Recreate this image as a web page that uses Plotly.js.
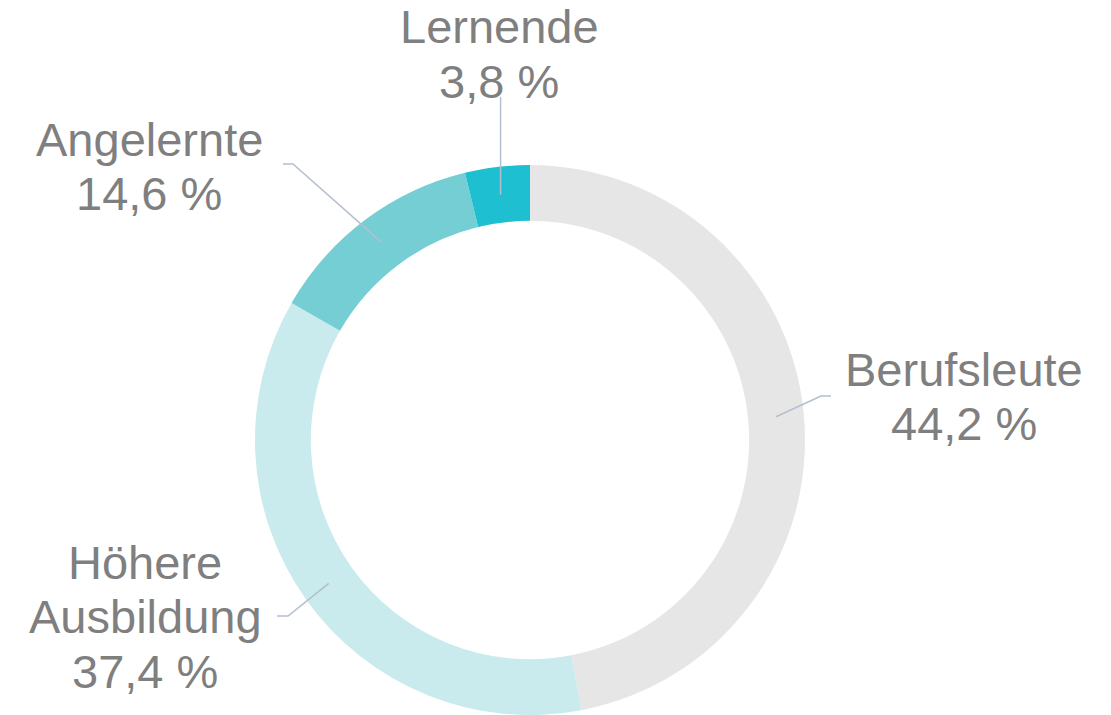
<!DOCTYPE html>
<html>
<head>
<meta charset="utf-8">
<script src="https://cdn.plot.ly/plotly-3.0.1.min.js"></script>
<style>html,body{margin:0;padding:0;background:#fff;}#chart{width:1111px;height:715px;}</style>
</head>
<body>
<div id="chart"></div>
<script>
// Data
const categories = ["Berufsleute", "Höhere Ausbildung", "Angelernte", "Lernende"];
const labelLines = [["Berufsleute"], ["Höhere", "Ausbildung"], ["Angelernte"], ["Lernende"]];
const shareText = ["44,2 %", "37,4 %", "14,6 %", "3,8 %"];
// slice sizes as drawn in the picture (%)
const values = [47.0, 36.3, 12.9, 3.8];
const colors = ["#e6e6e6", "#c9ebee", "#74ced4", "#1dbfd0"];

// Layout config (pixels)
const W = 1111, H = 715;
const cx = 530, cy = 440, R = 275, holeFrac = 0.797;
const labelCfg = [
  {x: 964, y0: 369, elbow: [821, 396], end: [831, 396]},
  {x: 145, y0: 562, elbow: [288, 616], end: [277, 616]},
  {x: 149, y0: 139, elbow: [293, 164], end: [283, 164]},
  {x: 499, y0: 27, elbow: null, end: [null, 97]}
];
const lineStep = 54.5;
const fontSize = 47;
const textColor = "#7f7f7f";

const px = x => x / W;
const py = y => 1 - y / H;

const trace = {
  type: "pie",
  labels: categories,
  values: values,
  sort: false,
  direction: "clockwise",
  rotation: 0,
  hole: holeFrac,
  textinfo: "none",
  hoverinfo: "label+percent",
  marker: {colors: colors, line: {width: 0}},
  domain: {x: [px(cx - R), px(cx + R)], y: [py(cy + R), py(cy - R)]},
  showlegend: false
};

const annotations = [];
const shapes = [];
const total = values.reduce((a, b) => a + b, 0);
let cum = 0;
const rMid = R * (1 + holeFrac) / 2;
values.forEach((v, i) => {
  const mid = (cum + v / 2) / total * 2 * Math.PI;
  cum += v;
  const sx = cx + rMid * Math.sin(mid);
  const sy = cy - rMid * Math.cos(mid);
  const cfg = labelCfg[i];
  const pts = [[sx, sy]];
  if (cfg.elbow) pts.push(cfg.elbow);
  pts.push([cfg.end[0] === null ? sx : cfg.end[0], cfg.end[1]]);
  let path = "M" + px(pts[0][0]) + "," + py(pts[0][1]);
  for (let k = 1; k < pts.length; k++) path += " L" + px(pts[k][0]) + "," + py(pts[k][1]);
  shapes.push({type: "path", xref: "paper", yref: "paper", path: path,
    line: {color: "#b3bfcf", width: 1.5}});
  const lines = labelLines[i].concat([shareText[i]]);
  lines.forEach((t, j) => {
    annotations.push({
      xref: "paper", yref: "paper",
      x: px(cfg.x), y: py(cfg.y0 + j * lineStep),
      xanchor: "center", yanchor: "middle",
      text: t, showarrow: false,
      font: {family: "Liberation Sans, Arial, sans-serif", size: fontSize, color: textColor}
    });
  });
});

const layout = {
  width: W, height: H,
  margin: {l: 0, r: 0, t: 0, b: 0},
  paper_bgcolor: "#ffffff",
  plot_bgcolor: "#ffffff",
  showlegend: false,
  annotations: annotations,
  shapes: shapes
};

Plotly.newPlot("chart", [trace], layout, {staticPlot: true, displayModeBar: false});
</script>
</body>
</html>
